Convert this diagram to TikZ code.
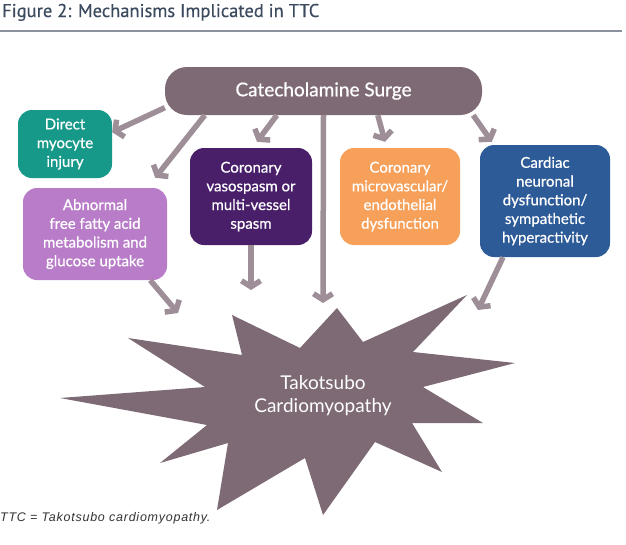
\documentclass[tikz,border=0pt]{standalone}
\usepackage{fontspec}
\setmainfont{Lato}
\newfontfamily\boxfont[FakeBold=0.7]{Lato}
\newfontfamily\titlefont[FakeBold=0.4]{PT Sans}
\newfontfamily\notefont[LetterSpace=6]{Liberation Sans}
\usetikzlibrary{calc,arrows.meta}
\definecolor{mauve}{HTML}{7E6A75}
\definecolor{arrowgrey}{HTML}{9E8E98}
\definecolor{mteal}{HTML}{17998A}
\definecolor{lilac}{HTML}{B87CC8}
\definecolor{plum}{HTML}{4A1F6A}
\definecolor{peach}{HTML}{F6A05A}
\definecolor{steel}{HTML}{2D5B97}
\definecolor{titleblue}{HTML}{3B4A5E}
\tikzstyle{box} = [rounded corners=14pt, text=white, align=center, inner sep=0pt, font=\boxfont\fontsize{15}{18.7}\selectfont]
\tikzstyle{flow} = [draw=arrowgrey, line width=5.5pt, -{Straight Barb[length=6pt,width=19pt]}]

\begin{document}
\begin{tikzpicture}[x=1pt,y=-1pt]
    \useasboundingbox[fill=white] (0,0) rectangle (626,544);
    % title and rule
    \node[anchor=base west, inner sep=0pt, text=titleblue] (title) at (2,17) {\titlefont\fontsize{18.5}{20}\selectfont Figure 2: Mechanisms Implicated in TTC};
    \draw[draw=titleblue!60, line width=2pt] (0,31) -- (622,31);
    % starburst
    \fill[mauve] (60,398) -- (205,387) -- (128,338) -- (242,355) -- (232,315) -- (300,348) -- (337,308)
        -- (363,342) -- (467,295) -- (413,352) -- (515,363) -- (423,387) -- (483,423) -- (412,423)
        -- (442,472) -- (375,442) -- (323,515) -- (305,458) -- (217,510) -- (228,443) -- (160,463)
        -- (207,425) -- cycle;
    \node[text=white, align=center, font=\fontsize{19}{23}\selectfont] (ttc) at (323,396) {Takotsubo\\Cardiomyopathy};
    % boxes
    \node[box, fill=mauve, rounded corners=22pt, minimum width=317pt, minimum height=48pt, font=\boxfont\fontsize{19}{22}\selectfont] (surge) at (323.5,91) {Catecholamine Surge};
    \node[box, fill=mteal, minimum width=94pt, minimum height=68pt] (injury) at (65,144) {Direct\\myocyte\\injury};
    \node[box, fill=lilac, minimum width=144pt, minimum height=92pt] (fatty) at (95,234) {Abnormal\\free fatty acid\\metabolism and\\glucose uptake};
    \node[box, fill=plum, minimum width=122pt, minimum height=97pt] (spasm) at (251,196.5) {Coronary\\vasospasm or\\multi-vessel\\spasm};
    \node[box, fill=peach, minimum width=120pt, minimum height=97pt] (micro) at (400,196.5) {Coronary\\microvascular/\\endothelial\\dysfunction};
    \node[box, fill=steel, minimum width=130pt, minimum height=112pt] (neuro) at (545,201) {Cardiac\\neuronal\\dysfunction/\\sympathetic\\hyperactivity};
    % arrow ends near the star
    \coordinate (endfatty) at (178,313);
    \coordinate (endspasm) at (251,290);
    \coordinate (endsurge) at (323,303);
    \coordinate (endneuro) at (478,310);
    % arrows out of the surge
    \draw[flow] (surge.186) -- (injury.14);
    \draw[flow] ([xshift=40pt]surge.south west) -- ([xshift=-12pt,yshift=10pt]fatty.north east);
    \draw[flow] ([xshift=112pt]surge.south west) -- ([xshift=6pt,yshift=6pt]spasm.north);
    \draw[flow] (surge.south) -- (endsurge);
    \draw[flow] ([xshift=213pt]surge.south west) -- ([xshift=-15pt,yshift=6pt]micro.north);
    \draw[flow] ([xshift=-9pt]surge.south east) -- ([xshift=12pt,yshift=3pt]neuro.north west);
    % arrows into the star
    \draw[flow] ([xshift=-17pt]fatty.south east) -- (endfatty);
    \draw[flow] (spasm.south) -- (endspasm);
    \draw[flow] ([xshift=-42pt]neuro.south) -- (endneuro);
    % note
    \node[anchor=base west, inner sep=0pt, text=black!80, font=\notefont\itshape\fontsize{12.5}{14}\selectfont] (note) at (0,521) {TTC = Takotsubo cardiomyopathy.};
\end{tikzpicture}
\end{document}
